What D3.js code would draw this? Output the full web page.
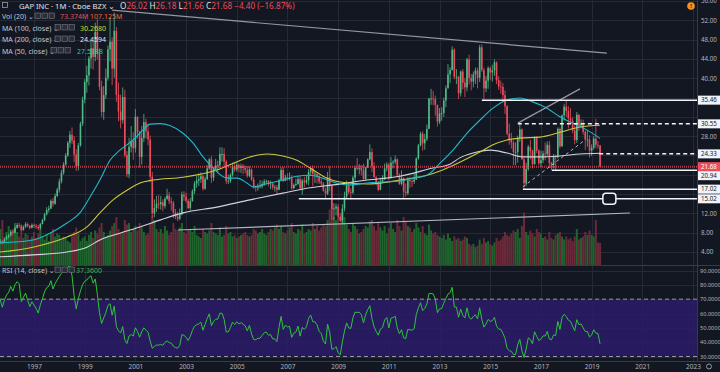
<!DOCTYPE html>
<html>
<head>
<meta charset="utf-8">
<script src="https://cdn.jsdelivr.net/npm/d3@7"></script>
<style>
  html, body { margin: 0; padding: 0; background: #131722; }
  svg { display: block; font-family: "Noto Sans", "DejaVu Sans", sans-serif; }
</style>
</head>
<body>
<svg id="chart" width="720" height="372"></svg>
<script>
// monthly GAP candles, Sep 1995 .. May 2019
const startYear = 1995, startMonth = 8;
const firstOpen = 6.2;

const closes = [
  6.3, 6.0, 6.6, 7.1,
  7.4, 8.2, 8.0, 9.0, 9.6, 9.5, 8.6, 9.2, 9.8, 9.4, 9.0, 9.6,
  9.4, 9.2, 8.9, 9.8, 10.6, 11.8, 12.7, 13.0, 14.6, 14.0, 15.6, 16.9,
  18.6, 20.4, 22.1, 24.0, 26.6, 28.3, 27.1, 24.2, 21.8, 26.1, 30.6, 35.6,
  39.2, 40.6, 44.1, 46.2, 44.4, 49.6, 45.1, 38.2, 33.0, 36.5, 40.1, 46.0,
  47.6, 42.0, 49.8, 36.6, 33.1, 31.3, 36.1, 24.1, 20.1, 25.8, 27.0, 25.5,
  32.0, 28.8, 23.7, 27.6, 30.9, 29.0, 27.3, 19.6, 12.0, 13.1, 14.0, 13.9,
  14.3, 13.5, 15.0, 15.7, 14.5, 14.2, 12.2, 11.3, 10.9, 11.8, 15.9, 15.5,
  14.6, 13.1, 14.5, 16.6, 18.2, 18.8, 19.1, 19.7, 17.1, 19.1, 21.3, 23.2,
  19.4, 21.1, 21.9, 22.0, 24.3, 24.3, 22.7, 18.7, 18.7, 20.0, 21.8, 21.1,
  22.0, 21.4, 21.8, 21.4, 21.0, 19.8, 21.1, 19.0, 17.4, 17.3, 17.6, 17.6,
  18.1, 18.6, 18.7, 18.1, 18.2, 17.4, 17.4, 16.9, 18.9, 21.0, 18.7, 19.5,
  19.2, 19.3, 17.2, 17.9, 18.1, 19.1, 17.2, 18.8, 18.4, 18.9, 20.6, 21.3,
  20.2, 20.2, 19.7, 18.6, 18.2, 16.7, 16.1, 19.5, 17.8, 12.9, 13.0, 13.4,
  11.3, 10.5, 13.0, 15.5, 17.8, 16.4, 16.3, 19.4, 21.4, 21.3, 21.4, 20.9,
  19.1, 21.5, 23.2, 24.7, 21.8, 19.5, 18.1, 16.9, 18.6, 19.0, 21.3, 22.1,
  19.3, 22.5, 22.7, 23.2, 20.0, 18.1, 19.3, 16.5, 16.2, 18.9, 18.7, 18.6,
  19.0, 23.4, 26.1, 28.5, 26.5, 27.4, 29.5, 35.8, 35.8, 35.7, 34.5, 31.0,
  32.7, 32.8, 35.4, 37.9, 40.8, 41.7, 45.9, 40.3, 40.3, 36.9, 41.4, 39.1,
  38.1, 43.9, 40.1, 39.3, 40.8, 41.6, 40.1, 46.4, 41.7, 37.9, 39.5, 42.1,
  41.2, 41.6, 43.3, 39.6, 38.3, 38.2, 36.5, 34.2, 28.5, 27.2, 26.7, 24.7,
  24.7, 27.6, 29.4, 23.2, 18.2, 21.2, 25.8, 24.9, 22.2, 27.6, 25.0, 22.4,
  23.0, 24.4, 24.3, 26.2, 22.4, 22.0, 23.8, 23.6, 29.5, 25.9, 32.3, 34.1,
  33.2, 31.7, 31.2, 29.2, 27.2, 32.4, 30.2, 30.6, 28.9, 27.3, 27.3, 25.0,
  25.6, 27.5, 26.2, 26.08, 21.68
];

const highs = [
  6.7, 6.5, 6.9, 7.5,
  7.8, 8.6, 8.5, 9.3, 10.0, 10.1, 9.7, 9.5, 10.2, 10.1, 9.6, 9.9,
  9.9, 9.8, 9.6, 10.0, 10.9, 12.1, 13.3, 13.6, 14.9, 15.2, 16.1, 17.3,
  19.2, 21.0, 22.6, 24.5, 27.0, 29.1, 29.8, 28.0, 25.3, 26.6, 31.0, 36.2,
  39.8, 42.6, 44.6, 48.0, 47.6, 51.5, 52.2, 46.2, 39.5, 38.4, 42.0, 46.8,
  52.6, 48.5, 53.6, 50.6, 39.1, 36.6, 38.1, 37.6, 24.9, 27.6, 30.1, 28.8,
  33.6, 32.1, 29.1, 30.1, 32.6, 31.6, 30.6, 28.1, 20.6, 14.9, 15.6, 15.8,
  15.6, 14.9, 15.4, 17.1, 16.4, 15.3, 14.6, 12.9, 12.3, 13.0, 16.5, 16.6,
  16.3, 15.0, 15.2, 17.0, 18.7, 19.8, 20.3, 20.5, 20.0, 19.6, 22.0, 23.5,
  23.9, 21.6, 23.3, 22.9, 25.7, 25.7, 25.5, 23.1, 20.0, 20.3, 22.5, 22.6,
  22.6, 22.3, 22.3, 22.2, 21.9, 21.8, 21.7, 21.3, 19.5, 17.8, 18.2, 18.9,
  18.8, 19.1, 19.0, 18.9, 18.8, 18.4, 17.9, 17.9, 19.2, 21.5, 21.6, 20.0,
  20.3, 20.5, 19.9, 18.2, 19.2, 19.8, 19.7, 19.2, 19.6, 19.9, 21.2, 21.8,
  21.9, 20.7, 20.2, 19.9, 19.3, 18.5, 17.3, 20.6, 21.7, 17.7, 14.1, 14.0,
  13.9, 12.1, 13.9, 16.5, 18.8, 18.4, 17.2, 19.8, 21.9, 23.5, 22.2, 22.0,
  22.3, 21.6, 23.4, 26.3, 25.5, 22.6, 19.7, 18.7, 19.4, 19.9, 22.3, 22.6,
  22.5, 23.7, 23.0, 24.0, 23.4, 20.3, 20.9, 19.5, 18.2, 19.5, 19.6, 19.4,
  20.3, 23.6, 26.4, 28.9, 29.0, 28.5, 30.4, 35.9, 37.8, 37.4, 36.4, 34.4,
  33.8, 34.0, 36.0, 38.5, 42.9, 42.3, 46.6, 46.2, 41.9, 40.5, 41.6, 41.9,
  40.0, 44.2, 44.9, 40.9, 41.4, 42.2, 42.2, 46.9, 47.0, 42.2, 40.5, 42.5,
  42.4, 42.8, 43.9, 43.5, 40.4, 39.5, 39.0, 37.5, 34.4, 30.6, 28.7, 27.1,
  26.7, 28.1, 30.6, 29.6, 23.6, 22.5, 26.2, 27.2, 25.2, 28.0, 28.0, 25.3,
  25.0, 25.0, 26.7, 26.9, 27.0, 22.7, 24.3, 24.2, 29.8, 29.8, 32.5, 34.7,
  35.5, 34.2, 33.8, 31.9, 30.2, 33.0, 32.6, 31.5, 31.4, 29.2, 29.3, 28.2,
  26.3, 28.0, 31.6, 27.0, 26.18
];

const lows = [
  5.7, 5.5, 5.9, 6.4,
  6.8, 7.3, 7.6, 7.9, 8.8, 9.0, 8.3, 8.4, 9.0, 9.1, 8.7, 8.9,
  9.0, 8.8, 8.5, 8.6, 9.7, 10.4, 11.6, 12.2, 12.9, 13.4, 13.8, 15.4,
  16.3, 18.2, 20.0, 21.9, 23.7, 25.6, 26.4, 22.6, 20.8, 20.9, 25.8, 30.1,
  34.8, 37.0, 38.5, 42.0, 41.8, 43.5, 43.9, 37.5, 32.0, 31.4, 35.7, 39.5,
  43.5, 38.6, 40.1, 35.1, 31.1, 29.6, 30.6, 23.6, 19.5, 19.3, 24.6, 23.1,
  24.6, 27.5, 21.5, 22.1, 26.8, 27.5, 26.1, 18.5, 11.0, 11.2, 12.3, 12.9,
  12.8, 12.4, 13.0, 14.8, 13.9, 12.6, 11.0, 10.8, 10.4, 10.6, 11.6, 14.6,
  14.2, 12.9, 12.6, 14.5, 16.0, 17.3, 17.7, 18.3, 16.7, 16.9, 18.9, 21.0,
  18.3, 18.7, 20.8, 20.4, 21.3, 22.7, 21.8, 18.1, 18.1, 18.3, 19.6, 20.6,
  20.7, 20.5, 20.4, 20.1, 20.3, 19.4, 19.5, 18.7, 17.1, 16.5, 16.7, 17.2,
  17.2, 17.7, 18.0, 17.6, 17.0, 16.9, 16.5, 15.9, 16.8, 18.8, 18.5, 18.7,
  18.8, 18.8, 16.9, 17.0, 17.6, 17.9, 16.9, 15.9, 17.4, 18.0, 17.8, 19.9,
  17.6, 18.3, 18.2, 18.1, 17.6, 16.5, 15.2, 15.8, 16.6, 10.6, 10.7, 11.6,
  10.7, 10.2, 10.0, 12.4, 15.1, 16.0, 14.9, 16.0, 18.6, 20.9, 20.1, 19.9,
  19.0, 18.9, 21.4, 23.0, 20.6, 19.4, 17.8, 16.6, 16.8, 18.3, 19.0, 20.7,
  18.9, 19.2, 21.3, 22.2, 19.5, 17.9, 17.8, 15.1, 15.5, 15.8, 17.3, 17.5,
  18.1, 18.9, 23.1, 25.9, 25.0, 25.2, 27.0, 29.6, 34.5, 34.4, 32.2, 30.0,
  30.5, 31.2, 32.0, 34.0, 37.9, 39.0, 41.6, 39.8, 38.8, 35.7, 36.2, 37.7,
  36.1, 37.3, 38.7, 37.5, 38.1, 38.8, 37.9, 39.2, 41.3, 35.3, 37.1, 37.8,
  39.7, 39.3, 40.5, 38.8, 37.6, 36.8, 35.5, 32.6, 28.2, 26.2, 25.4, 22.0,
  22.0, 22.5, 26.8, 23.1, 17.0, 17.6, 20.8, 23.2, 21.3, 22.1, 24.5, 22.0,
  21.6, 22.4, 23.0, 23.7, 21.4, 21.0, 21.3, 21.0, 23.4, 25.5, 25.8, 31.2,
  32.0, 29.6, 30.4, 28.6, 26.3, 26.6, 29.1, 29.6, 28.3, 25.1, 25.8, 23.6,
  23.9, 25.2, 25.5, 25.4, 21.66
];

// volume in millions of shares
const volumes = [
  120, 150, 95, 110,
  130, 100, 120, 140, 110, 95, 125, 90, 105, 100, 85, 95,
  110, 90, 105, 120, 95, 85, 100, 80, 110, 120, 95, 105,
  100, 85, 95, 90, 80, 75, 95, 110, 125, 105, 80, 90,
  95, 80, 100, 110, 90, 115, 105, 125, 140, 110, 95, 100,
  115, 130, 140, 160, 120, 105, 110, 150, 135, 140, 110, 120,
  130, 115, 140, 125, 110, 100, 105, 140, 165, 150, 120, 110,
  120, 105, 130, 115, 100, 110, 140, 120, 115, 125, 140, 110,
  105, 115, 120, 110, 130, 100, 95, 90, 120, 110, 105, 115,
  140, 110, 105, 100, 125, 95, 100, 130, 105, 110, 95, 100,
  90, 95, 100, 105, 110, 100, 95, 100, 120, 115, 105, 110,
  120, 105, 100, 110, 120, 115, 125, 135, 120, 130, 110, 105,
  115, 125, 140, 110, 105, 120, 115, 135, 105, 110, 120, 115,
  140, 120, 130, 115, 125, 135, 130, 150, 185, 215, 160, 150,
  155, 140, 175, 160, 135, 120, 110, 140, 130, 120, 105, 110,
  120, 130, 125, 145, 150, 130, 115, 140, 125, 115, 130, 105,
  125, 140, 120, 110, 150, 130, 115, 160, 145, 130, 125, 110,
  120, 140, 125, 110, 130, 105, 100, 135, 115, 105, 110, 100,
  95, 90, 100, 85, 105, 90, 80, 95, 85, 90, 80, 85,
  95, 90, 70, 65, 70, 60, 65, 85, 70, 90, 75, 80,
  70, 65, 75, 90, 80, 85, 95, 110, 100, 95, 105, 115,
  110, 120, 90, 130, 175, 110, 100, 115, 105, 95, 120, 110,
  105, 90, 95, 85, 110, 90, 85, 100, 105, 110, 95, 85,
  95, 85, 90, 80, 95, 120, 85, 90, 95, 110, 100, 115,
  100, 95, 150, 75, 73
];

// moving averages: [decimal year, value]
const ma50 = [
  [1995.66, 5.9], [1996.96, 6.5], [1997.63, 7.9], [1998.30, 10.0], [1998.81, 12.1],
  [1999.21, 15.4], [1999.60, 18.9], [2000.0, 23.0], [2000.39, 25.1], [2000.91, 27.2],
  [2001.30, 29.3], [2001.58, 30.5], [2001.97, 30.6], [2002.36, 30.2], [2002.88, 28.6],
  [2003.27, 26.6], [2003.67, 23.7], [2004.06, 21.4], [2004.61, 19.3], [2005.01, 19.3],
  [2005.40, 18.3], [2005.64, 17.5], [2006.31, 18.3], [2006.82, 18.9], [2007.37, 19.7],
  [2007.89, 19.9], [2008.28, 19.5], [2008.68, 18.7], [2009.07, 18.1], [2009.47, 17.9],
  [2010.14, 18.3], [2010.77, 18.5], [2011.44, 18.7], [2011.95, 19.3], [2012.50, 19.9],
  [2013.02, 22.4], [2013.53, 25.1], [2014.08, 28.6], [2014.59, 31.3], [2015.11, 33.8],
  [2015.66, 35.5], [2016.17, 35.9], [2016.68, 35.1], [2017.24, 33.8], [2017.75, 32.0],
  [2018.26, 30.7], [2018.81, 29.3], [2019.33, 27.54]
];
const ma100 = [
  [1995.66, 4.0], [1996.96, 5.0], [1998.30, 7.1], [1999.09, 9.2], [1999.60, 12.1],
  [2000.12, 14.8], [2000.67, 16.8], [2001.18, 18.3], [2001.69, 18.9], [2002.88, 19.5],
  [2004.22, 21.0], [2005.52, 23.7], [2006.19, 24.3], [2006.82, 23.9], [2007.37, 23.0],
  [2007.89, 21.4], [2008.56, 19.3], [2009.07, 18.5], [2010.14, 18.1], [2011.44, 18.9],
  [2012.50, 19.9], [2013.02, 20.8], [2013.80, 22.6], [2014.59, 24.7], [2015.11, 26.2],
  [2015.66, 27.2], [2016.17, 27.6], [2016.96, 27.8], [2017.75, 28.8], [2018.54, 29.9],
  [2019.33, 30.27]
];
const ma200 = [
  [1995.66, 3.0], [1996.96, 3.4], [1998.30, 4.0], [1999.09, 5.0], [1999.60, 6.5],
  [2000.39, 7.9], [2001.18, 9.2], [2001.97, 10.6], [2002.88, 12.1], [2004.22, 13.3],
  [2005.52, 14.8], [2006.82, 16.2], [2007.89, 17.3], [2008.80, 17.9], [2010.14, 18.9],
  [2011.44, 19.7], [2012.74, 21.4], [2013.41, 22.2], [2013.80, 23.5], [2014.32, 24.5],
  [2015.0, 25.1], [2015.66, 24.5], [2016.29, 23.7], [2016.96, 23.7], [2017.75, 23.9],
  [2018.54, 24.3], [2019.33, 24.46]
];

// RSI state carried in from the months before the visible range
const rsiSeedGain = 0.20, rsiSeedLoss = 0.09;

// user drawings: [decimal year, price]
const trendLines = [
  { from: [2000.08, 54.1], to: [2019.60, 45.2], color: "#9598a1", dash: null, w: 1.2 },
  { from: [2002.68, 8.56], to: [2020.51, 12.08], color: "#b2b5be", dash: null, w: 1.2 },
  { from: [2016.09, 30.7], to: [2018.54, 37.8], color: "#9598a1", dash: null, w: 1.2 },
  { from: [2016.29, 17.5], to: [2018.74, 27.2], color: "#b2b5be", dash: "3,3", w: 1 }
];
const levelLines = [
  { price: 35.46, from: 2014.67, dash: null },
  { price: 30.55, from: 2016.09, dash: "4,3" },
  { price: 24.33, from: 2019.30, dash: "4,3" },
  { price: 20.94, from: 2017.43, dash: null },
  { price: 17.02, from: 2016.29, dash: null },
  { price: 15.02, from: 2007.45, dash: null }
];
const lastPrice = 21.68;

const priceTicks = d3.range(4, 57, 4);
const rsiTicks = d3.range(30, 91, 10);
const yearTicks = d3.range(1997, 2024, 2);

const svg = d3.select("#chart");
const W = 720, axisX = 697, paneBottom = 265, rsiBottom = 361;

const x = d3.scaleLinear().domain([0, 312]).range([34, 693]);
const y = d3.scaleLinear().domain([4, 56]).range([252, 1]);
const yVol = d3.scaleLinear().domain([0, 250]).range([paneBottom, 190]);
const yRsi = d3.scaleLinear().domain([30, 90]).range([356.5, 270.5]);
const yearIdx = t => (t - 1997) * 12;

const startIdx = (startYear - 1997) * 12 + startMonth;
const candles = closes.map((c, k) => {
  const o = k === 0 ? firstOpen : closes[k - 1];
  return { i: startIdx + k, o, c, h: Math.max(highs[k], o, c), l: Math.min(lows[k], o, c), v: volumes[k] };
});

// RSI(14) from closes, Wilder smoothing
const rsi = [];
let ag = rsiSeedGain, al = rsiSeedLoss;
candles.forEach(d => {
  const ch = d.c - d.o;
  ag += (Math.max(ch, 0) - ag) / 14;
  al += (Math.max(-ch, 0) - al) / 14;
  rsi.push({ i: d.i, v: 100 - 100 / (1 + ag / al) });
});

svg.append("rect").attr("width", W).attr("height", 372).attr("fill", "#131722");

const defs = svg.append("defs");
defs.append("clipPath").attr("id", "mainClip")
  .append("rect").attr("x", 0).attr("y", 0).attr("width", axisX).attr("height", paneBottom);
defs.append("clipPath").attr("id", "rsiClip")
  .append("rect").attr("x", 0).attr("y", paneBottom + 1).attr("width", axisX).attr("height", rsiBottom - paneBottom - 1);

// grid
const grid = svg.append("g").attr("stroke", "#262a35").attr("stroke-width", 1);
grid.selectAll(".hg").data(priceTicks).enter().append("line")
  .attr("x1", 0).attr("x2", axisX)
  .attr("y1", d => Math.round(y(d)) + 0.5).attr("y2", d => Math.round(y(d)) + 0.5);
grid.selectAll(".rg").data(rsiTicks).enter().append("line")
  .attr("x1", 0).attr("x2", axisX)
  .attr("y1", d => Math.round(yRsi(d)) + 0.5).attr("y2", d => Math.round(yRsi(d)) + 0.5);
grid.selectAll(".vg").data(yearTicks).enter().append("line")
  .attr("x1", d => Math.round(x(yearIdx(d))) + 0.5).attr("x2", d => Math.round(x(yearIdx(d))) + 0.5)
  .attr("y1", 0).attr("y2", rsiBottom);

// RSI band
svg.append("rect")
  .attr("x", 0).attr("width", axisX)
  .attr("y", yRsi(70)).attr("height", yRsi(30) - yRsi(70))
  .attr("fill", "#2c1b68").attr("opacity", 0.85);
svg.selectAll(".rsiLvl").data([70, 30]).enter().append("line")
  .attr("x1", 0).attr("x2", axisX)
  .attr("y1", d => yRsi(d)).attr("y2", d => yRsi(d))
  .attr("stroke", "#9598a1").attr("stroke-dasharray", "4,3").attr("stroke-width", 1);

// pane borders
svg.selectAll(".border").data([paneBottom + 0.5, rsiBottom + 0.5]).enter().append("line")
  .attr("x1", 0).attr("x2", W).attr("y1", d => d).attr("y2", d => d)
  .attr("stroke", "#363a45");
svg.append("line").attr("x1", axisX + 0.5).attr("x2", axisX + 0.5).attr("y1", 0).attr("y2", rsiBottom)
  .attr("stroke", "#363a45");

const main = svg.append("g").attr("clip-path", "url(#mainClip)");

// volume
main.append("g").selectAll("rect").data(candles).enter().append("rect")
  .attr("x", d => x(d.i) - 1).attr("width", 2)
  .attr("y", d => yVol(d.v)).attr("height", d => paneBottom - yVol(d.v))
  .attr("fill", d => d.c >= d.o ? "#1e642c" : "#6a2a39");

// candles
const cg = main.append("g");
cg.selectAll("line").data(candles).enter().append("line")
  .attr("x1", d => x(d.i)).attr("x2", d => x(d.i))
  .attr("y1", d => y(d.h)).attr("y2", d => y(d.l))
  .attr("stroke", d => d.c >= d.o ? "#53b987" : "#eb4d5c").attr("stroke-width", 0.8);
cg.selectAll("rect").data(candles).enter().append("rect")
  .attr("x", d => x(d.i) - 0.8).attr("width", 1.6)
  .attr("y", d => y(Math.max(d.o, d.c)))
  .attr("height", d => Math.max(0.8, Math.abs(y(d.o) - y(d.c))))
  .attr("fill", d => d.c >= d.o ? "#53b987" : "#eb4d5c");

// moving averages
const maLine = d3.line().x(d => x(yearIdx(d[0]))).y(d => y(d[1])).curve(d3.curveMonotoneX);
[[ma200, "#d1d4dc"], [ma100, "#c9c83e"], [ma50, "#22b8c8"]].forEach(([data, color]) => {
  main.append("path").datum(data).attr("d", maLine)
    .attr("fill", "none").attr("stroke", color).attr("stroke-width", 1.1);
});

// last price line
main.append("line").attr("x1", 0).attr("x2", axisX)
  .attr("y1", y(lastPrice)).attr("y2", y(lastPrice))
  .attr("stroke", "#eb4d5c").attr("stroke-width", 2).attr("stroke-dasharray", "1,1").attr("opacity", 0.7);

// drawings
main.selectAll(".tl").data(trendLines).enter().append("line")
  .attr("x1", d => x(yearIdx(d.from[0]))).attr("y1", d => y(d.from[1]))
  .attr("x2", d => x(yearIdx(d.to[0]))).attr("y2", d => y(d.to[1]))
  .attr("stroke", d => d.color).attr("stroke-width", d => d.w)
  .attr("stroke-dasharray", d => d.dash);
main.selectAll(".lv").data(levelLines).enter().append("line")
  .attr("x1", d => x(yearIdx(d.from))).attr("x2", axisX)
  .attr("y1", d => y(d.price)).attr("y2", d => y(d.price))
  .attr("stroke", "#f0f3fa").attr("stroke-width", 1.5)
  .attr("stroke-dasharray", d => d.dash);
main.append("rect")
  .attr("x", x(yearIdx(2019.70)) - 6.5).attr("y", y(15.02) - 5.5)
  .attr("width", 13).attr("height", 11).attr("rx", 3)
  .attr("fill", "#131722").attr("stroke", "#f0f3fa").attr("stroke-width", 1.5);

// RSI line
svg.append("g").attr("clip-path", "url(#rsiClip)")
  .append("path").datum(rsi)
  .attr("d", d3.line().x(d => x(d.i)).y(d => yRsi(d.v)))
  .attr("fill", "none").attr("stroke", "#2fc43c").attr("stroke-width", 1);

// price axis
const boxes = levelLines.map(d => d.price);
const priceAxis = d3.axisRight(y)
  .tickValues(priceTicks.filter(t => ![...boxes, lastPrice].some(b => Math.abs(y(b) - y(t)) < 8)))
  .tickFormat(d3.format(".2f")).tickSize(0).tickPadding(0);
const pa = svg.append("g").attr("transform", `translate(${axisX + 4},0)`).call(priceAxis);
pa.select(".domain").remove();
pa.selectAll("text").attr("fill", "#b2b5be").attr("font-size", 6.2).attr("font-family", "Noto Sans, sans-serif");

const rsiAxis = d3.axisRight(yRsi).tickValues(rsiTicks)
  .tickFormat(d3.format(".4f")).tickSize(0).tickPadding(0);
const ra = svg.append("g").attr("transform", `translate(${axisX + 3},0)`).call(rsiAxis);
ra.select(".domain").remove();
ra.selectAll("text").attr("fill", "#b2b5be").attr("font-size", 5.6).attr("font-family", "Noto Sans, sans-serif");

// price label boxes, pushed apart where they collide
const tagData = boxes.map(p => ({ p, bg: "#f0f3fa", fg: "#131722" }))
  .concat([{ p: lastPrice, bg: "#eb4d5c", fg: "#ffffff" }])
  .map(d => ({ ...d, ty: y(d.p) }))
  .sort((a, b) => a.ty - b.ty);
tagData.forEach((d, k) => {
  if (k > 0 && d.ty < tagData[k - 1].ty + 9) d.ty = tagData[k - 1].ty + 9;
});
const tags = svg.append("g").selectAll("g").data(tagData).enter().append("g")
  .attr("transform", d => `translate(${axisX + 1},${d.ty})`);
tags.append("rect").attr("x", 0).attr("y", -4.5).attr("width", 22).attr("height", 9)
  .attr("fill", d => d.bg);
tags.append("text").text(d => d3.format(".2f")(d.p))
  .attr("x", 3).attr("y", 2.2).attr("font-size", 6.2).attr("fill", d => d.fg);

// time axis
const timeAxis = d3.axisBottom(x).tickValues(yearTicks.map(yearIdx))
  .tickFormat(i => 1997 + i / 12).tickSize(0).tickPadding(0);
const ta = svg.append("g").attr("transform", `translate(0,${rsiBottom + 3})`).call(timeAxis);
ta.select(".domain").remove();
ta.selectAll("text").attr("fill", "#b2b5be").attr("font-size", 6.5).attr("font-family", "Noto Sans, sans-serif");

// legend
const leg = svg.append("g").attr("font-size", 7);
leg.append("rect").attr("x", 2.5).attr("y", 2.5).attr("width", 5).attr("height", 5)
  .attr("fill", "none").attr("stroke", "#9598a1").attr("stroke-width", 0.8);
leg.append("text").attr("x", 19).attr("y", 9).attr("font-size", 7.6).attr("fill", "#e0e3eb")
  .text("GAP INC · 1M · Cboe BZX ⌄");
const ohlc = [["O", "26.02"], ["H", "26.18"], ["L", "21.66"], ["C", "21.68"]];
const ot = leg.append("text").attr("x", 120).attr("y", 9).attr("font-size", 8.2);
ohlc.forEach(([k, v]) => {
  ot.append("tspan").attr("fill", "#e0e3eb").text(k);
  ot.append("tspan").attr("fill", "#eb4d5c").text(v + " ");
});
ot.append("tspan").attr("fill", "#eb4d5c").text("−4.40 (−16.87%)");

const rows = [
  { y: 19, name: "Vol (20) ⌄", ix: 35, vx: 60, vals: [["73.374M", "#eb4d5c"], ["107.125M", "#f0643c"]] },
  { y: 30.5, name: "MA (100, close) ⌄", ix: 55, vx: 80, vals: [["30.2680", "#d6d63e"]] },
  { y: 42, name: "MA (200, close) ⌄", ix: 55, vx: 80, vals: [["24.4594", "#e0e3eb"]] },
  { y: 53.5, name: "MA (50, close) ⌄", ix: 51, vx: 77, vals: [["27.5388", "#22c0d0"]] },
  { y: 273, name: "RSI (14, close) ⌄", ix: 55, vx: 76, vals: [["37.3600", "#4caf50"]] }
];
rows.forEach(r => {
  leg.append("text").attr("x", 2).attr("y", r.y).attr("fill", "#c3c6ce").text(r.name);
  d3.range(3).forEach(j => {
    leg.append("rect").attr("x", r.ix + j * 7).attr("y", r.y - 6).attr("width", 5.5).attr("height", 5.5)
      .attr("fill", "#2a2e39").attr("stroke", "#787b86").attr("stroke-width", 0.6);
  });
  const t = leg.append("text").attr("x", r.vx).attr("y", r.y);
  r.vals.forEach(([v, c]) => t.append("tspan").attr("fill", c).text(v + " "));
});

// corner icons
svg.append("circle").attr("cx", 691).attr("cy", 6).attr("r", 3.8).attr("fill", "#f7931a");
svg.append("text").attr("x", 691).attr("y", 8).attr("text-anchor", "middle")
  .attr("font-size", 5.5).attr("font-weight", "bold").attr("fill", "#131722").text("!");
svg.append("circle").attr("cx", 709).attr("cy", 366.5).attr("r", 2.5)
  .attr("fill", "none").attr("stroke", "#9598a1").attr("stroke-width", 1);
</script>
</body>
</html>
